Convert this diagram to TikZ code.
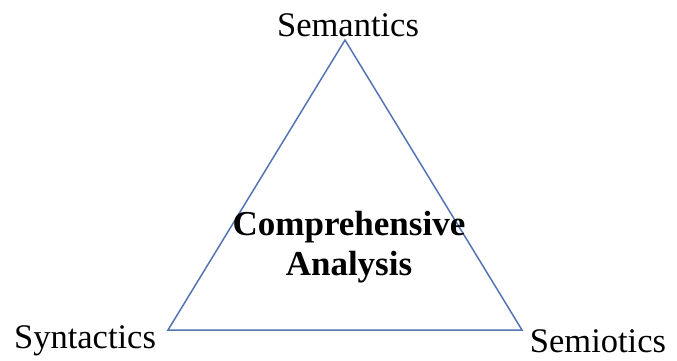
\documentclass[tikz,border=0pt]{standalone}
\usepackage{fontspec}
\setmainfont{Liberation Serif}
\usetikzlibrary{positioning}
\definecolor{myblue}{RGB}{84, 116, 180}
\tikzset{corner/.style = {font = \fontsize{34.5}{40}\selectfont, inner sep = 0pt}}
\tikzset{centre/.style = {font = \fontsize{35}{40}\selectfont\bfseries, align = center, inner sep = 0pt}}

\begin{document}
\begin{tikzpicture}[x = 1pt, y = -1pt]
\useasboundingbox (0, 0) rectangle (677, 360);

\coordinate (top) at (345, 40);
\coordinate (bl) at (168, 330);
\coordinate (br) at (522, 330);
\draw[myblue, line width = 1.5pt, line join = miter] (top) -- (bl) -- (br) -- cycle;

\node[corner] (sem) at (348, 25) {Semantics};
\node[corner] (syn) at (85, 341) {Syntactics};
\node[corner] (semio) at (598, 341) {Semiotics};
\node[centre] (ca) at (349, 247) {Comprehensive\\Analysis};
\end{tikzpicture}
\end{document}
